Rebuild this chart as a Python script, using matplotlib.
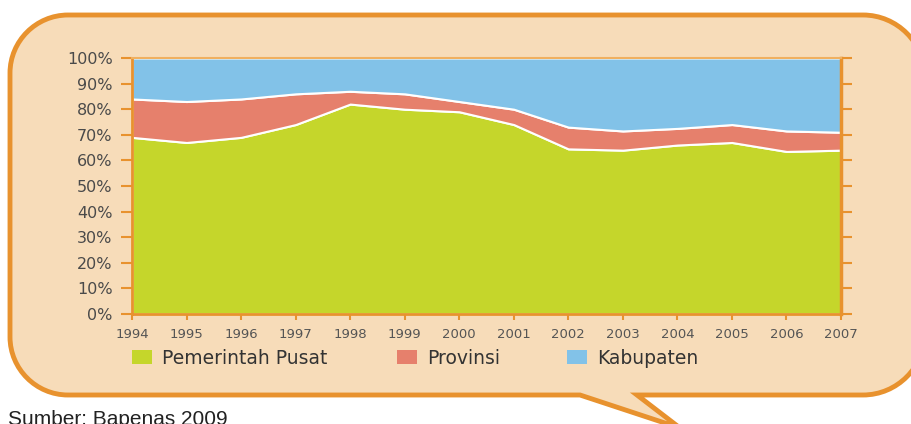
import matplotlib.pyplot as plt
import numpy as np
from matplotlib.path import Path
from matplotlib.patches import PathPatch, Patch

tahun = [1994, 1995, 1996, 1997, 1998, 1999, 2000, 2001, 2002, 2003, 2004, 2005, 2006, 2007]
pusat = [69, 67, 69, 74, 82, 80, 79, 74, 64.5, 64, 66, 67, 63.5, 64]
provinsi = [15, 16, 15, 12, 5, 6, 4, 6, 8.5, 7.5, 6.5, 7, 8, 7]
kabupaten = [16, 17, 16, 14, 13, 14, 17, 20, 27, 28.5, 27.5, 26, 28.5, 29]
label_seri = ["Pemerintah Pusat", "Provinsi", "Kabupaten"]
warna = ["#c5d62b", "#e6806c", "#82c2e8"]

oranye = "#e8922e"
krem = "#f7dcb9"
abu = "#4a4a4a"

fig = plt.figure(figsize=(9.11, 4.24), dpi=100)

# latar: gelembung bicara dengan ekor
bg = fig.add_axes([0, 0, 1, 1])
bg.set_xlim(0, 911)
bg.set_ylim(424, 0)
bg.axis("off")

x0, x1, y0, y1 = 10, 925, 15, 395
r1, r2 = 58, 62  # sudut kiri, sudut kanan
k1, k2 = 0.55 * r1, 0.55 * r2
verts = [
    (x0 + r1, y0), (x1 - r2, y0),
    (x1 - r2 + k2, y0), (x1, y0 + r2 - k2), (x1, y0 + r2),
    (x1, y1 - r2),
    (x1, y1 - r2 + k2), (x1 - r2 + k2, y1), (x1 - r2, y1),
    (637, y1), (680, 428), (580, y1),
    (x0 + r1, y1),
    (x0 + r1 - k1, y1), (x0, y1 - r1 + k1), (x0, y1 - r1),
    (x0, y0 + r1),
    (x0, y0 + r1 - k1), (x0 + r1 - k1, y0), (x0 + r1, y0),
    (x0 + r1, y0),
]
codes = [Path.MOVETO, Path.LINETO,
         Path.CURVE4, Path.CURVE4, Path.CURVE4,
         Path.LINETO,
         Path.CURVE4, Path.CURVE4, Path.CURVE4,
         Path.LINETO, Path.LINETO, Path.LINETO,
         Path.LINETO,
         Path.CURVE4, Path.CURVE4, Path.CURVE4,
         Path.LINETO,
         Path.CURVE4, Path.CURVE4, Path.CURVE4,
         Path.CLOSEPOLY]
bg.add_patch(PathPatch(Path(verts, codes), facecolor=krem, edgecolor=oranye, linewidth=3.5))

bg.text(8, 410, "Sumber: Bapenas 2009", fontsize=15, family="Liberation Sans",
        color="#222222", va="top", ha="left")

# grafik area bertumpuk
ax = fig.add_axes([132 / 911, (424 - 314) / 424, (841 - 132) / 911, (314 - 58) / 424])
ax.stackplot(tahun, pusat, provinsi, kabupaten, colors=warna,
             edgecolor="white", linewidth=1.5)
ax.set_xlim(1994, 2007)
ax.set_ylim(0, 100)
ax.set_facecolor(krem)

ax.set_xticks(tahun)
ax.set_xticklabels([str(t) for t in tahun])
ax.set_yticks(np.arange(0, 101, 10))
ax.set_yticklabels([f"{v}%" for v in range(0, 101, 10)])
ax.tick_params(axis="y", which="both", direction="out", length=8, width=1.5,
               color=oranye, labelcolor=abu, labelsize=11.5, pad=6,
               right=True)
ax.tick_params(axis="x", direction="out", length=4, width=1.5, color=oranye,
               labelcolor="#555555", labelsize=9.5, pad=6)

for s in ["left", "bottom"]:
    ax.spines[s].set_color(oranye)
    ax.spines[s].set_linewidth(2)
ax.spines["right"].set_color(oranye)
ax.spines["right"].set_linewidth(2.5)
ax.spines["top"].set_color("#f0b060")
ax.spines["top"].set_linewidth(1.5)

# legenda: tiap entri diletakkan sendiri
posisi_legenda = [132, 397, 567]
for lbl, c, px in zip(label_seri, warna, posisi_legenda):
    fig.legend([Patch(facecolor=c, edgecolor="none")], [lbl], loc="center left",
               bbox_to_anchor=(px / 911, 1 - 358 / 424), frameon=False,
               fontsize=13.5, labelcolor="#333333", borderpad=0, borderaxespad=0,
               handlelength=1.05, handleheight=0.75, handletextpad=0.55)

fig.savefig("out.png", dpi=100)
